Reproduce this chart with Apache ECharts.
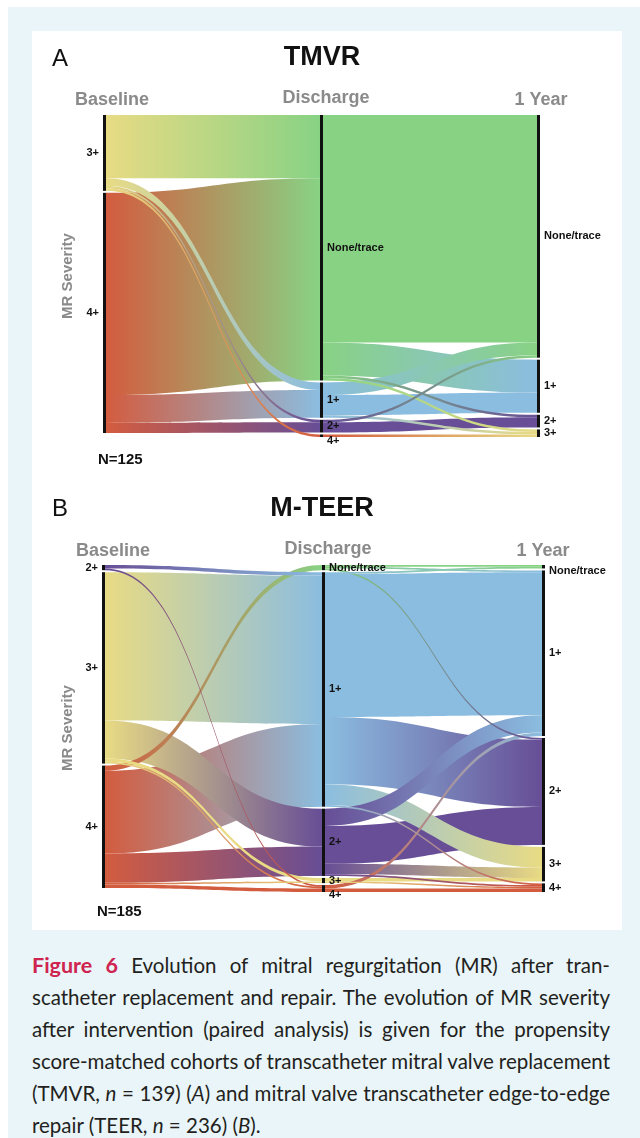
<!DOCTYPE html>
<html>
<head>
<meta charset="utf-8">
<script src="https://cdn.jsdelivr.net/npm/echarts@6/dist/echarts.min.js"></script>
<style>
html,body{margin:0;padding:0;width:640px;height:1138px;overflow:hidden;background:#ffffff;}
#bg{position:absolute;left:8px;top:7px;width:632px;height:1131px;background:#e9f5f8;}
#panel{position:absolute;left:32px;top:31px;width:590px;height:899px;background:#ffffff;}
#chart{position:absolute;left:0;top:0;width:640px;height:940px;}
#caption{position:absolute;left:32px;top:949px;width:578px;font-family:Lato,"Open Sans",sans-serif;font-size:20.5px;line-height:32px;color:#231f20;}
#caption .ln{white-space:nowrap;height:32px;}
#caption .ln span{display:inline-block;white-space:nowrap;}
#caption b{color:#cf2350;font-weight:bold;font-size:21.5px;}
</style>
</head>
<body>
<div id="bg"></div>
<div id="panel"></div>
<div id="chart"></div>
<div id="caption">
  <div class="ln j"><span><b>Figure 6</b> Evolution of mitral regurgitation (MR) after tran-</span></div>
  <div class="ln j"><span>scatheter replacement and repair. The evolution of MR severity</span></div>
  <div class="ln j"><span>after intervention (paired analysis) is given for the propensity</span></div>
  <div class="ln j"><span>score-matched cohorts of transcatheter mitral valve replacement</span></div>
  <div class="ln j"><span>(TMVR, <i>n</i> = 139) (<i>A</i>) and mitral valve transcatheter edge-to-edge</span></div>
  <div class="ln"><span>repair (TEER, <i>n</i> = 236) (<i>B</i>).</span></div>
</div>
<script>
// ---------- DATA ----------
const stageNames = ['Baseline', 'Discharge', '1 Year'];
const gradeColors = {
  'None/trace': '#88d284',
  '1+': '#8bbde0',
  '2+': '#674e96',
  '3+': '#e8db84',
  '4+': '#d35c3f'
};

// Panel A: TMVR (N = 125)
const tmvrTitle = 'TMVR';
const tmvrN = 'N=125';
const tmvrBaselineNodes = ['3+', '4+'];
const tmvrDischargeNodes = ['None/trace', '1+', '2+', '4+'];
const tmvrYearNodes = ['None/trace', '1+', '2+', '3+'];
const tmvrBaselineToDischarge = [
  ['3+', 'None/trace', 25], ['3+', '1+', 3], ['3+', '2+', 1], ['3+', '4+', 1],
  ['4+', 'None/trace', 80], ['4+', '1+', 11], ['4+', '2+', 4]
];
const tmvrDischargeToYear = [
  ['None/trace', 'None/trace', 90], ['None/trace', '1+', 13], ['None/trace', '2+', 1], ['None/trace', '3+', 1],
  ['1+', 'None/trace', 5], ['1+', '1+', 8], ['1+', '3+', 1],
  ['2+', 'None/trace', 1], ['2+', '2+', 4],
  ['4+', '3+', 1]
];

// Panel B: M-TEER (N = 185)
const teerTitle = 'M-TEER';
const teerN = 'N=185';
const teerBaselineNodes = ['2+', '3+', '4+'];
const teerDischargeNodes = ['None/trace', '1+', '2+', '3+', '4+'];
const teerYearNodes = ['None/trace', '1+', '2+', '3+', '4+'];
const teerBaselineToDischarge = [
  ['2+', '1+', 2], ['2+', '4+', 1],
  ['3+', '1+', 86], ['3+', '2+', 22], ['3+', '3+', 2], ['3+', '4+', 1],
  ['4+', 'None/trace', 3], ['4+', '1+', 48], ['4+', '2+', 17], ['4+', '3+', 1], ['4+', '4+', 2]
];
const teerDischargeToYear = [
  ['None/trace', 'None/trace', 1], ['None/trace', '1+', 1], ['None/trace', '2+', 1],
  ['1+', 'None/trace', 1], ['1+', '1+', 83], ['1+', '2+', 39], ['1+', '3+', 12], ['1+', '4+', 1],
  ['2+', '1+', 10], ['2+', '2+', 22], ['2+', '3+', 6], ['2+', '4+', 1],
  ['3+', '3+', 2], ['3+', '4+', 1],
  ['4+', '1+', 2], ['4+', '4+', 2]
];

// ---------- BUILD ----------
const FONT = '"Liberation Sans", Arial, Helvetica, sans-serif';

function buildSankey(prefix, columns, transitions, labelOffsets) {
  const nodes = [];
  columns.forEach(function (col, ci) {
    col.forEach(function (g) {
      const name = prefix + '|' + ci + '|' + g;
      nodes.push({
        name: name,
        label: { position: ci === 0 ? 'left' : 'right', offset: labelOffsets[name] || [0, 0] }
      });
    });
  });
  const links = [];
  transitions.forEach(function (tr, ti) {
    tr.forEach(function (row) {
      const s = row[0], t = row[1], v = row[2];
      links.push({
        source: prefix + '|' + ti + '|' + s,
        target: prefix + '|' + (ti + 1) + '|' + t,
        value: v,
        lineStyle: {
          opacity: 1,
          color: {
            type: 'linear', x: 0, y: 0, x2: 1, y2: 0,
            colorStops: [
              { offset: 0, color: gradeColors[s] },
              { offset: 1, color: gradeColors[t] }
            ]
          }
        }
      });
    });
  });
  // thinner flows drawn on top of larger ones
  links.sort(function (a, b) { return b.value - a.value; });
  return { nodes: nodes, links: links };
}

const sA = buildSankey('A', [tmvrBaselineNodes, tmvrDischargeNodes, tmvrYearNodes],
  [tmvrBaselineToDischarge, tmvrDischargeToYear], { 'A|1|4+': [0, 5] });
const sB = buildSankey('B', [teerBaselineNodes, teerDischargeNodes, teerYearNodes],
  [teerBaselineToDischarge, teerDischargeToYear], { 'B|2|None/trace': [0, 4], 'B|1|4+': [0, 6] });

function sankeySeries(s, box) {
  return {
    type: 'sankey',
    left: box.left, top: box.top, width: box.width, height: box.height,
    nodeWidth: 3,
    nodeGap: 2,
    layoutIterations: 0,
    draggable: false,
    silent: true,
    emphasis: { disabled: true },
    data: s.nodes,
    links: s.links,
    itemStyle: { color: '#111111', borderWidth: 0 },
    lineStyle: { curveness: 0.5, opacity: 1 },
    label: {
      show: true,
      fontSize: 11,
      fontWeight: 'bold',
      fontFamily: FONT,
      color: '#111111',
      distance: 4,
      formatter: function (p) { return p.name.split('|')[2]; }
    }
  };
}

function txt(x, y, text, size, weight, color, align, rotation) {
  return {
    type: 'text', x: x, y: y, rotation: rotation || 0, silent: true,
    style: {
      text: text, fontSize: size, fontWeight: weight, fontFamily: FONT,
      fill: color, align: align || 'center', verticalAlign: 'middle'
    }
  };
}

const headerColor = '#8a8a8a';
const graphics = [
  txt(52, 59, 'A', 24, 'normal', '#111', 'left'),
  txt(322, 58, tmvrTitle, 27, 'bold', '#111'),
  txt(112, 100, stageNames[0], 18, 'bold', headerColor),
  txt(326, 98, stageNames[1], 18, 'bold', headerColor),
  txt(541, 100, stageNames[2], 18, 'bold', headerColor),
  txt(68, 276, 'MR Severity', 15, 'bold', headerColor, 'center', Math.PI / 2),
  txt(98, 460, tmvrN, 15, 'bold', '#111', 'left'),

  txt(52, 509, 'B', 24, 'normal', '#111', 'left'),
  txt(322, 509, teerTitle, 27, 'bold', '#111'),
  txt(113, 551, stageNames[0], 18, 'bold', headerColor),
  txt(328, 549, stageNames[1], 18, 'bold', headerColor),
  txt(543, 551, stageNames[2], 18, 'bold', headerColor),
  txt(68, 728, 'MR Severity', 15, 'bold', headerColor, 'center', Math.PI / 2),
  txt(97, 912, teerN, 15, 'bold', '#111', 'left')
];

const chart = echarts.init(document.getElementById('chart'), null, { renderer: 'canvas' });
chart.setOption({
  animation: false,
  backgroundColor: 'transparent',
  graphic: graphics,
  series: [
    sankeySeries(sA, { left: 103, top: 115, width: 437, height: 322 }),
    sankeySeries(sB, { left: 102, top: 565, width: 443, height: 327 })
  ]
});

// ---------- caption justification ----------
function justify() {
  const W = 578;
  document.querySelectorAll('#caption .ln.j span').forEach(function (sp) {
    sp.style.wordSpacing = '0px';
    const w = sp.getBoundingClientRect().width;
    const n = (sp.textContent.match(/ /g) || []).length;
    if (n > 0) sp.style.wordSpacing = ((W - w) / n) + 'px';
  });
}
justify();
if (document.fonts && document.fonts.ready) document.fonts.ready.then(justify);
</script>
</body>
</html>
